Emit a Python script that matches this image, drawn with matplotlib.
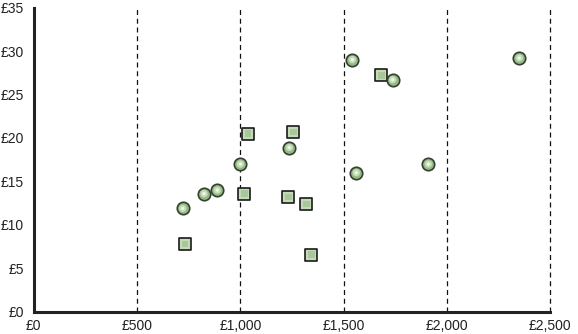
import matplotlib
matplotlib.use("Agg")
import matplotlib.pyplot as plt
from matplotlib.ticker import FuncFormatter

# Series 1 (circles)
circle_x = [721, 824, 888, 1000, 1237, 1542, 1561, 1737, 1910, 2350]
circle_y = [11.9, 13.6, 14.0, 17.0, 18.9, 29.0, 16.0, 26.7, 17.0, 29.2]
# Series 2 (squares)
square_x = [733, 1019, 1038, 1232, 1256, 1319, 1343, 1682]
square_y = [7.8, 13.6, 20.5, 13.2, 20.7, 12.4, 6.6, 27.2]

x_ticks = [0, 500, 1000, 1500, 2000, 2500]
y_ticks = [0, 5, 10, 15, 20, 25, 30, 35]

plt.rcParams['font.family'] = ['Liberation Sans', 'DejaVu Sans']

fig = plt.figure(figsize=(5.78, 3.34), dpi=100)
ax = fig.add_axes([0.0585, 0.066, 0.8935, 0.9115])
ax.set_xlim(0, 2500)
ax.set_ylim(0, 35)

for xv in x_ticks[1:]:
    ax.axvline(xv, color='#111111', lw=0.9, ls=(0, (4, 3)), zorder=1,
               clip_on=False)

# squares
ax.scatter(square_x, square_y, marker='s', s=72, facecolor='#c4dab9',
           edgecolor='#1a1a1a', linewidths=1.2, zorder=3)
ax.scatter(square_x, square_y, marker='s', s=22, facecolor='#a8c89b',
           edgecolor='none', zorder=4)
# circles
ax.scatter(circle_x, circle_y, marker='o', s=80, facecolor='#93b883',
           edgecolor='#34412e', linewidths=1.2, zorder=5)
ax.scatter(circle_x, circle_y, marker='o', s=28, facecolor='#c5dcb9',
           edgecolor='none', zorder=6)
ax.scatter(circle_x, circle_y, marker='o', s=5, facecolor='#f4f9f1',
           edgecolor='none', zorder=7)

ax.set_xticks(x_ticks)
ax.set_yticks(y_ticks)
ax.xaxis.set_major_formatter(FuncFormatter(lambda v, p: '£{:,.0f}'.format(v)))
ax.yaxis.set_major_formatter(FuncFormatter(lambda v, p: '£{:,.0f}'.format(v)))
ax.tick_params(axis='both', length=0, labelsize=10, colors='#222222')
ax.tick_params(axis='x', pad=5)
ax.tick_params(axis='y', pad=7)

for s in ['top', 'right']:
    ax.spines[s].set_visible(False)
for s in ['left', 'bottom']:
    ax.spines[s].set_linewidth(2.2)
    ax.spines[s].set_color('#222222')

fig.savefig('out.png', dpi=100)
